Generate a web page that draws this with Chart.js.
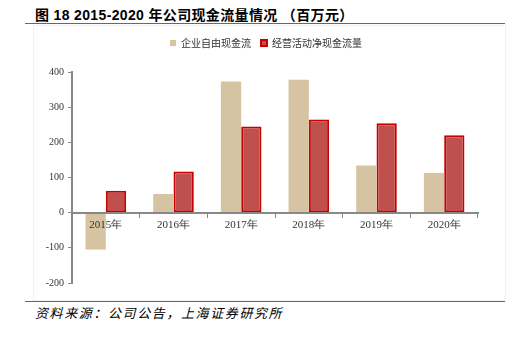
<!DOCTYPE html>
<html>
<head>
<meta charset="utf-8">
<script src="https://cdn.jsdelivr.net/npm/chart.js@4"></script>
<style>
  html, body { margin: 0; padding: 0; background: #fff; }
  body { width: 513px; height: 338px; position: relative; overflow: hidden; }
  .title {
    position: absolute; left: 35px; top: 4px; letter-spacing: 0.35px;
    font: bold 14px "Liberation Sans", "Noto Sans CJK SC", sans-serif; color: #000; white-space: nowrap;
  }
  .rule { position: absolute; left: 25px; width: 480px; height: 1px; background: #e8322b; }
  .frame { position: absolute; left: 33px; top: 25px; width: 471px; height: 274px; border: 1px solid #f1f1f1; }
  .source {
    position: absolute; left: 35px; top: 303px;
    font: italic 13px "Noto Sans CJK SC", sans-serif; color: #000; letter-spacing: 1.6px; white-space: nowrap;
  }
  #wrap { position: absolute; left: 0; top: 0; width: 513px; height: 338px; }
</style>
</head>
<body>
<div class="frame"></div>
<div class="title">图 18 2015-2020 年公司现金流量情况 （百万元）</div>
<div class="rule" style="top:23px"></div>
<div class="rule" style="top:301px"></div>
<div class="source">资料来源：公司公告，上海证券研究所</div>
<div id="wrap"><canvas id="chart"></canvas></div>
<script>
// values in 百万元
const years = ["2015年", "2016年", "2017年", "2018年", "2019年", "2020年"];
const freeCashFlow = [-105, 53, 373, 378, 134, 113];
const operatingCashFlow = [62, 117, 245, 265, 254, 220];
const yTicks = [-200, -100, 0, 100, 200, 300, 400];

const serif = { family: '"Liberation Serif", "Times New Roman", serif', size: 11 };

// fixed legend height so the plot starts lower, and nudge it right a little
const legendSpacer = {
  id: "legendSpacer",
  beforeInit(chart) {
    const fit = chart.legend.fit;
    chart.legend.fit = function () {
      fit.call(this);
      this.height = 44;
    };
  },
  afterLayout(chart) {
    chart.legend.left += 11;
    chart.legend.right += 11;
  },
};

new Chart(document.getElementById("chart"), {
  type: "bar",
  data: {
    labels: years,
    datasets: [
      {
        label: "企业自由现金流",
        data: freeCashFlow,
        backgroundColor: "#d5c3a1",
        borderWidth: 0,
      },
      {
        label: "经营活动净现金流量",
        data: operatingCashFlow,
        backgroundColor: "#c0504d",
        borderColor: "#c80000",
        borderWidth: 2,
        borderSkipped: false,
      },
    ],
  },
  plugins: [legendSpacer],
  options: {
    responsive: true,
    maintainAspectRatio: false,
    animation: false,
    layout: { padding: { top: 28, left: 32, right: 35, bottom: 55 } },
    datasets: { bar: { categoryPercentage: 0.6, barPercentage: 1 } },
    plugins: {
      tooltip: { enabled: false },
      legend: {
        position: "top",
        labels: {
          boxWidth: 6,
          boxHeight: 6,
          padding: 10,
          color: "#333",
          font: { family: '"Noto Sans CJK SC", sans-serif', size: 10 },
        },
      },
    },
    scales: {
      x: {
        position: { y: 0 },
        border: { color: "#888", width: 2, z: 1 },
        grid: { drawOnChartArea: false, tickLength: 4, color: "#888", offset: true },
        ticks: { color: "#333", font: serif, padding: 2, z: 1 },
      },
      y: {
        min: yTicks[0],
        max: yTicks[yTicks.length - 1],
        afterBuildTicks: (scale) => { scale.ticks = yTicks.map((v) => ({ value: v })); },
        afterFit: (scale) => { scale.width = 40; },
        border: { color: "#888", width: 2 },
        grid: { drawOnChartArea: false, tickLength: 4, color: "#888" },
        ticks: { color: "#333", font: { ...serif, size: 10 }, padding: 4 },
      },
    },
  },
});
</script>
</body>
</html>
